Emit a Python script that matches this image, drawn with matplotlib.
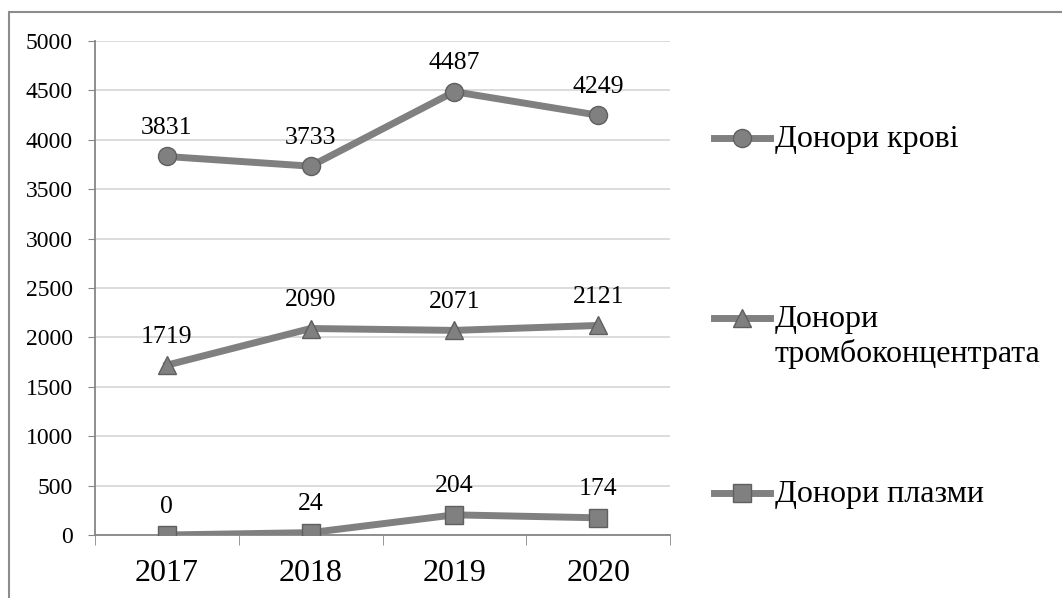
import matplotlib
matplotlib.use("Agg")
import matplotlib.pyplot as plt
from matplotlib.patches import Rectangle

years = ["2017", "2018", "2019", "2020"]
blood = [3831, 3733, 4487, 4249]
platelets = [1719, 2090, 2071, 2121]
plasma = [0, 24, 204, 174]
labels = ["Донори крові", "Донори\nтромбоконцентрата", "Донори плазми"]
y_ticks = [0, 500, 1000, 1500, 2000, 2500, 3000, 3500, 4000, 4500, 5000]

plt.rcParams["font.family"] = ["Liberation Serif", "DejaVu Serif"]

W, H = 1062, 598
fig = plt.figure(figsize=(W / 100, H / 100), dpi=100)
ax = fig.add_axes([95 / W, 1 - 535 / H, (670 - 95) / W, (535 - 41) / H])

# outer chart border (cropped on right/bottom in the reference)
fig.patches.append(Rectangle((9 / W, -0.05), 1.2, 1 - 12 / H + 0.05,
                             transform=fig.transFigure, fill=False,
                             edgecolor="#8c8c8c", linewidth=1.5))

line_color = "#808080"
edge_color = "#5f5f5f"
x = list(range(len(years)))
series = [(blood, "o"), (platelets, "^"), (plasma, "s")]
handles = []
for (vals, mk), lab in zip(series, labels):
    h, = ax.plot(x, vals, color=line_color, linewidth=5, marker=mk,
                 markersize=13, markerfacecolor=line_color,
                 markeredgecolor=edge_color, markeredgewidth=1.0,
                 label=lab, zorder=3)
    handles.append(h)
    for xi, v in zip(x, vals):
        ax.annotate(str(v), (xi, v), xytext=(0, 12.5), textcoords="offset points",
                    ha="center", va="bottom", fontsize=18.5, color="black")

ax.set_xlim(-0.5, len(years) - 0.5)
ax.set_ylim(0, 5000)
ax.set_yticks(y_ticks)
ax.set_yticklabels([str(t) for t in y_ticks], fontsize=17)
ax.set_xticks(x)
ax.set_xticklabels(years, fontsize=23)
ax.set_xticks([i - 0.5 for i in range(len(years) + 1)], minor=True)
ax.tick_params(axis="x", which="major", length=0, pad=17)
ax.tick_params(axis="x", which="minor", length=7, color="#868686", direction="out")
ax.tick_params(axis="y", length=5, color="#868686", pad=11)
ax.grid(axis="y", color="#d9d9d9", linewidth=1.3)
ax.set_axisbelow(True)
for s in ["top", "right"]:
    ax.spines[s].set_visible(False)
ax.spines["left"].set_color("#868686")
ax.spines["bottom"].set_color("#868686")
ax.spines["left"].set_linewidth(1.3)
ax.spines["bottom"].set_linewidth(1.3)

# one legend per entry so the spacing follows the reference
leg_tops = [125, 305, 480]
for h, lab, top in zip(handles, labels, leg_tops):
    leg = fig.legend(handles=[h], labels=[lab], loc="upper left",
                     bbox_to_anchor=(714 / W, 1 - top / H), frameon=False,
                     fontsize=23, handlelength=1.75, handleheight=1.15,
                     handletextpad=0.15, borderpad=0, borderaxespad=0)
    for col in leg._legend_handle_box.get_children():
        for row in col.get_children():
            row.align = "top"

fig.savefig("out.png", dpi=100)
